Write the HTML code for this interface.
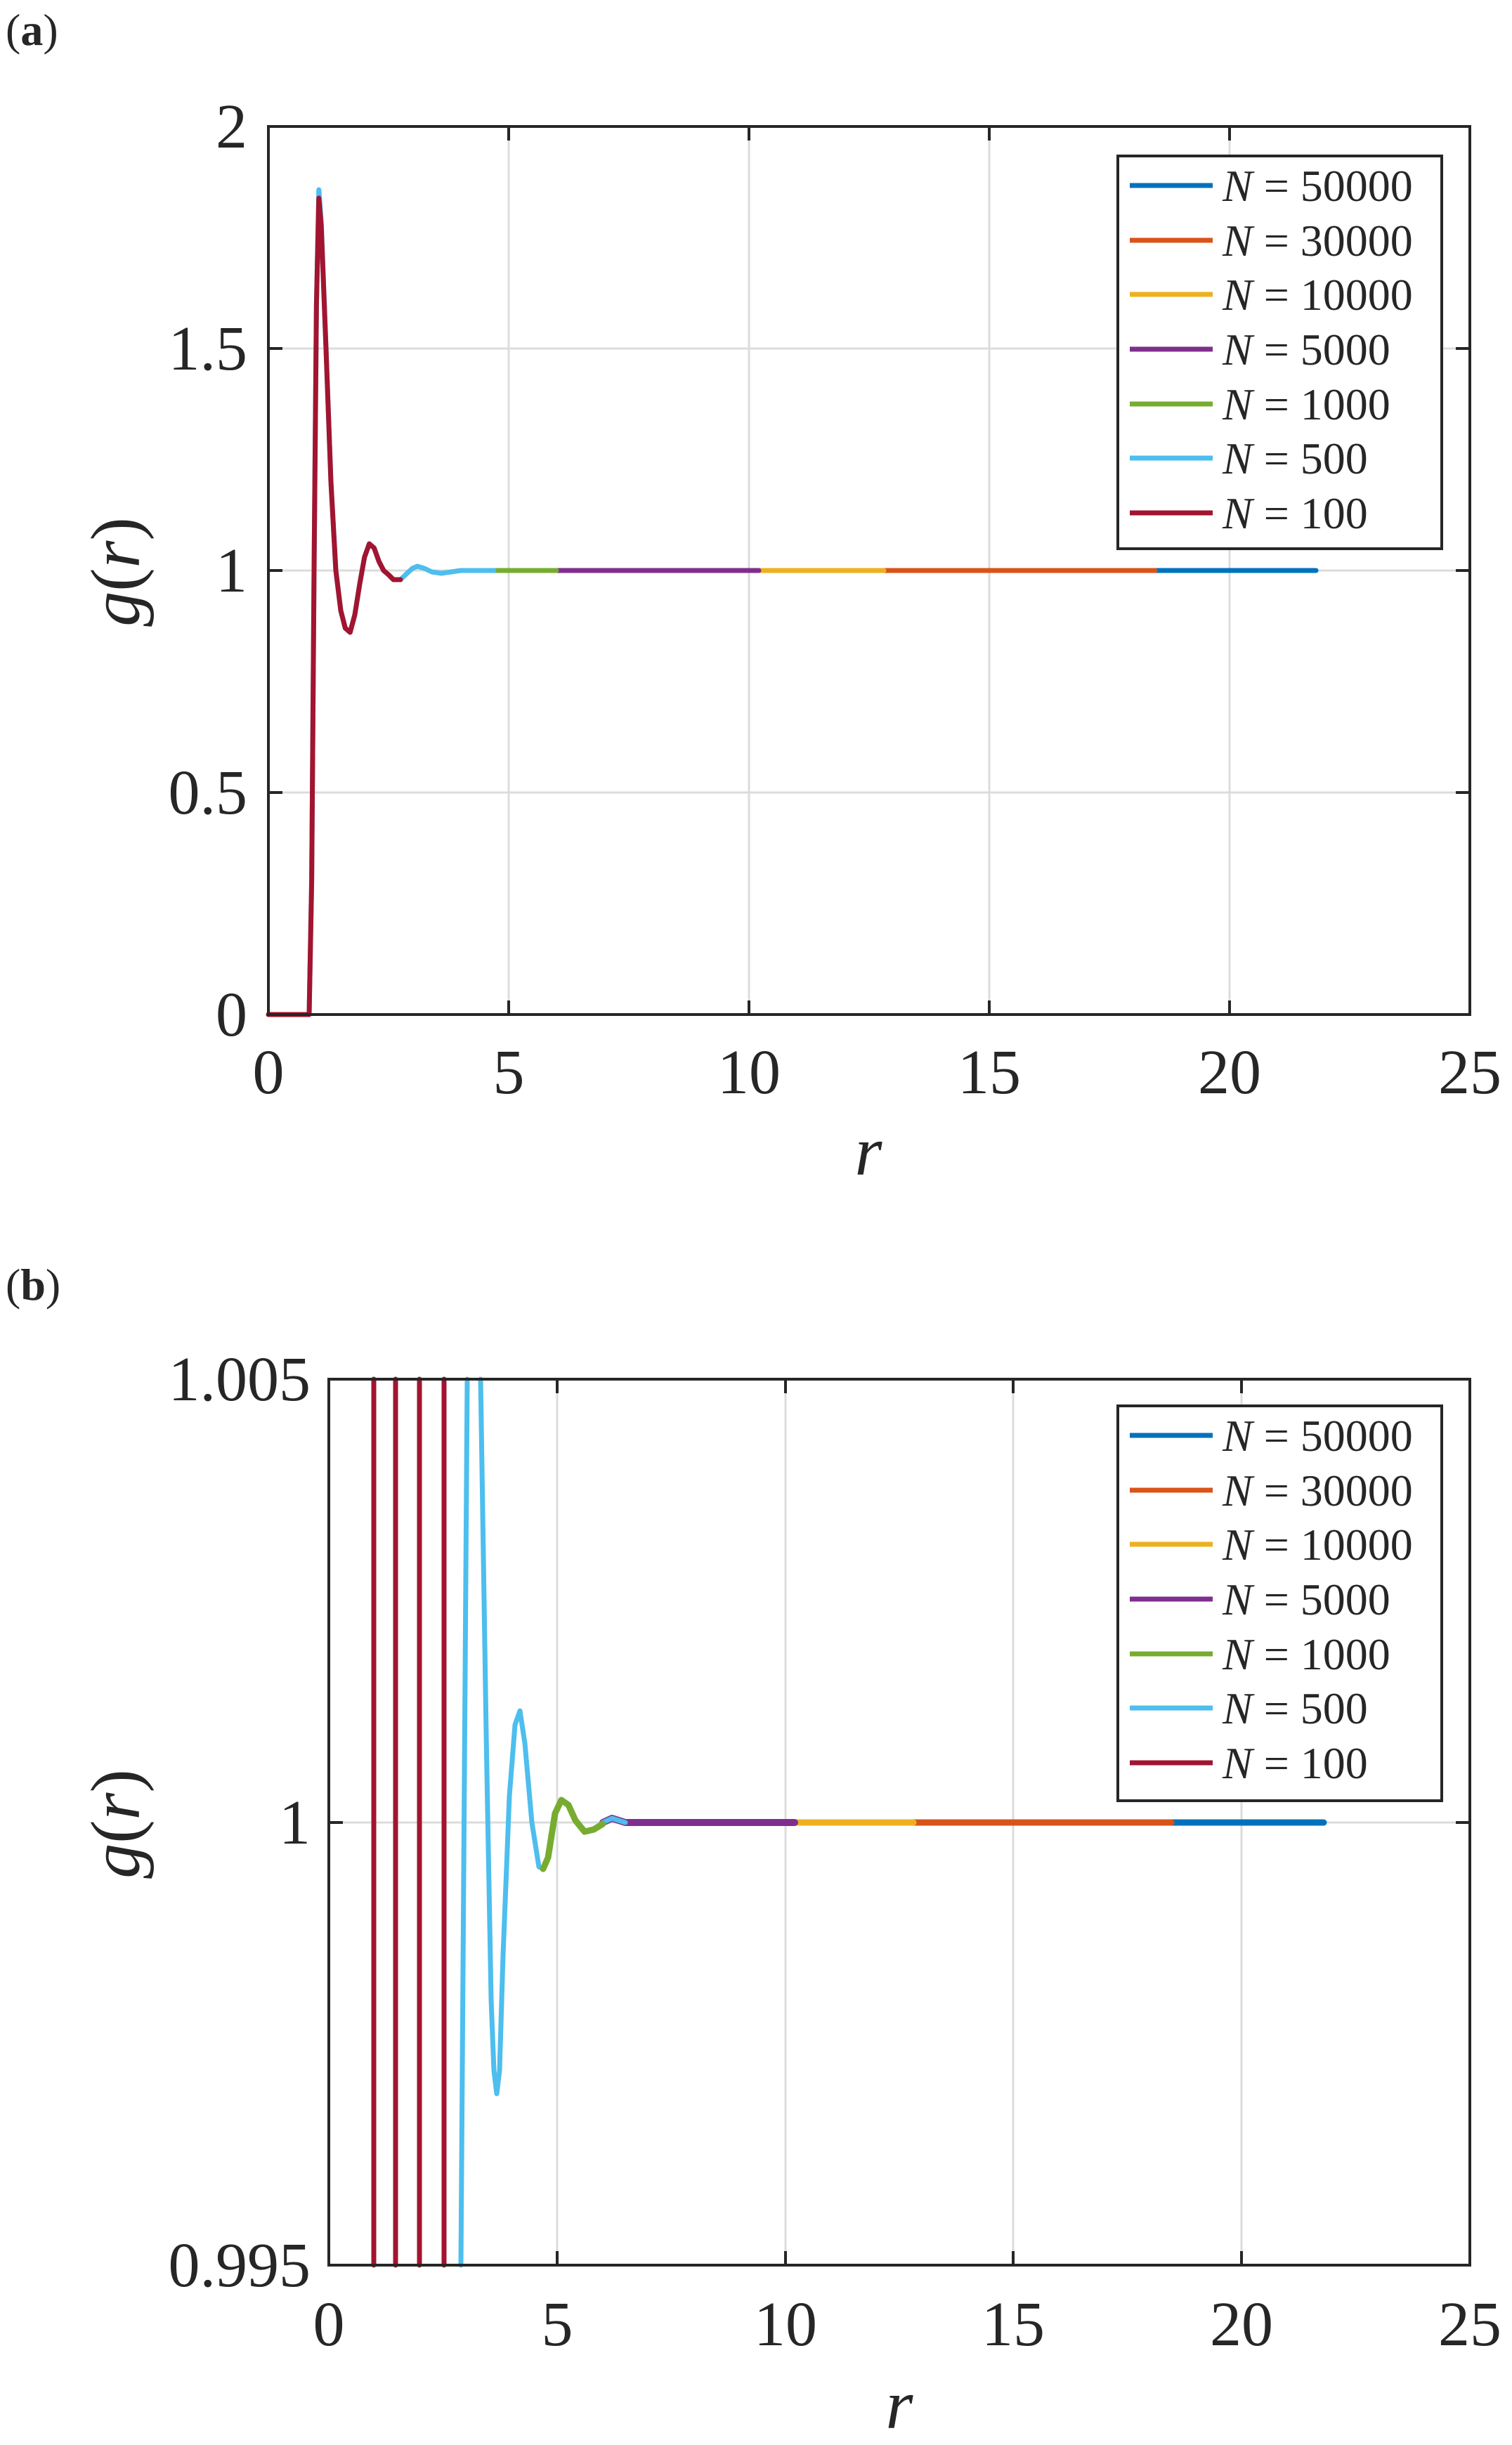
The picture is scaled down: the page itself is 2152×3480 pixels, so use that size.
<!DOCTYPE html>
<html><head><meta charset="utf-8"><style>
html,body{margin:0;padding:0;background:#fff}
svg{display:block}
text{font-family:"Liberation Serif",serif;fill:#262626}
</style></head><body>
<svg width="2152" height="3480" viewBox="0 0 2152 3480" xmlns="http://www.w3.org/2000/svg">
<rect width="2152" height="3480" fill="#fff"/>

<!-- Panel (a) -->
<text x="8" y="64" font-size="64">(<tspan font-weight="bold">a</tspan>)</text>
<g stroke="#dcdcdc" stroke-width="3">
<line x1="724" y1="180" x2="724" y2="1444"/><line x1="1066" y1="180" x2="1066" y2="1444"/>
<line x1="1408" y1="180" x2="1408" y2="1444"/><line x1="1750" y1="180" x2="1750" y2="1444"/>
<line x1="382" y1="496" x2="2092" y2="496"/><line x1="382" y1="812" x2="2092" y2="812"/>
<line x1="382" y1="1128" x2="2092" y2="1128"/>
</g>
<g fill="none" stroke-width="7" stroke-linejoin="round" stroke-linecap="round">
<line x1="1644" y1="812" x2="1873" y2="812" stroke="#0072BD"/>
<line x1="1258" y1="812" x2="1644" y2="812" stroke="#D95319"/>
<line x1="1080" y1="812" x2="1258" y2="812" stroke="#EDB120"/>
<line x1="792" y1="812" x2="1080" y2="812" stroke="#7E2F8E"/>
<line x1="703" y1="812" x2="792" y2="812" stroke="#77AC30"/>
<path stroke="#4DBEEE" d="M382,1444 L440,1444 L443.6,1254 L447,812 L450.4,433 L453.8,270 L457.2,315 L464,496 L471,686 L478,812 L485,869 L491.4,894 L498.3,900 L505,875 L512,831 L518.8,793 L525.6,774 L532.5,780 L539.3,799 L546,812 L553,818 L560,825 L570,825 L580.4,815 L587,809 L594,806 L604,809 L614.6,814 L628,816 L642,814 L656,812 L703,812"/>
<path stroke="#A2142F" d="M382,1444 L440,1444 L443.6,1254 L447,812 L450.4,433 L453.8,282 L457.2,322 L464,496 L471,686 L478,812 L485,869 L491.4,894 L498.3,900 L505,875 L512,831 L518.8,793 L525.6,774 L532.5,780 L539.3,799 L546,812 L553,818 L560,825 L570,825"/>
</g>
<rect x="382" y="180" width="1710" height="1264" fill="none" stroke="#262626" stroke-width="4"/>
<g stroke="#262626" stroke-width="4">
<line x1="724" y1="180" x2="724" y2="200"/><line x1="1066" y1="180" x2="1066" y2="200"/><line x1="1408" y1="180" x2="1408" y2="200"/><line x1="1750" y1="180" x2="1750" y2="200"/>
<line x1="724" y1="1444" x2="724" y2="1424"/><line x1="1066" y1="1444" x2="1066" y2="1424"/><line x1="1408" y1="1444" x2="1408" y2="1424"/><line x1="1750" y1="1444" x2="1750" y2="1424"/>
<line x1="382" y1="496" x2="402" y2="496"/><line x1="382" y1="812" x2="402" y2="812"/><line x1="382" y1="1128" x2="402" y2="1128"/>
<line x1="2092" y1="496" x2="2072" y2="496"/><line x1="2092" y1="812" x2="2072" y2="812"/><line x1="2092" y1="1128" x2="2072" y2="1128"/>
</g>
<g font-size="90" text-anchor="end">
<text x="352" y="210">2</text><text x="352" y="526">1.5</text><text x="352" y="842">1</text>
<text x="352" y="1158">0.5</text><text x="352" y="1474">0</text>
</g>
<g font-size="90" text-anchor="middle">
<text x="382" y="1556">0</text><text x="724" y="1556">5</text><text x="1066" y="1556">10</text>
<text x="1408" y="1556">15</text><text x="1750" y="1556">20</text><text x="2092" y="1556">25</text>
</g>
<text x="1236" y="1672" font-size="100" font-style="italic" text-anchor="middle">r</text>
<text transform="translate(198,814) rotate(-90)" font-size="100" text-anchor="middle"><tspan font-style="italic">g</tspan>(<tspan font-style="italic">r</tspan>)</text>
<rect x="1591" y="222" width="461" height="559" fill="#fff" stroke="#262626" stroke-width="4"/>
<g stroke-width="7">
<line x1="1608" y1="264" x2="1726" y2="264" stroke="#0072BD"/>
<line x1="1608" y1="342" x2="1726" y2="342" stroke="#D95319"/>
<line x1="1608" y1="419" x2="1726" y2="419" stroke="#EDB120"/>
<line x1="1608" y1="497" x2="1726" y2="497" stroke="#7E2F8E"/>
<line x1="1608" y1="575" x2="1726" y2="575" stroke="#77AC30"/>
<line x1="1608" y1="652" x2="1726" y2="652" stroke="#4DBEEE"/>
<line x1="1608" y1="730" x2="1726" y2="730" stroke="#A2142F"/>
</g>
<g font-size="64">
<text x="1740" y="286"><tspan font-style="italic">N</tspan> = 50000</text>
<text x="1740" y="364"><tspan font-style="italic">N</tspan> = 30000</text>
<text x="1740" y="441"><tspan font-style="italic">N</tspan> = 10000</text>
<text x="1740" y="519"><tspan font-style="italic">N</tspan> = 5000</text>
<text x="1740" y="597"><tspan font-style="italic">N</tspan> = 1000</text>
<text x="1740" y="674"><tspan font-style="italic">N</tspan> = 500</text>
<text x="1740" y="752"><tspan font-style="italic">N</tspan> = 100</text>
</g>

<!-- Panel (b) -->
<text x="8" y="1850" font-size="64">(<tspan font-weight="bold">b</tspan>)</text>
<g stroke="#dcdcdc" stroke-width="3">
<line x1="793" y1="1963" x2="793" y2="3224"/><line x1="1118" y1="1963" x2="1118" y2="3224"/>
<line x1="1442" y1="1963" x2="1442" y2="3224"/><line x1="1767" y1="1963" x2="1767" y2="3224"/>
<line x1="468" y1="2594" x2="2092" y2="2594"/>
</g>
<g fill="none" stroke-linejoin="round" stroke-linecap="round">
<path stroke="#0072BD" stroke-width="9" d="M1667,2594 L1884,2594"/>
<path stroke="#D95319" stroke-width="9" d="M1300,2594 L1667,2594"/>
<path stroke="#EDB120" stroke-width="9" d="M1131,2594 L1300,2594"/>
<path stroke="#7E2F8E" stroke-width="10" d="M858,2594 L871,2588 L890,2594 L1131,2594"/>
<path stroke="#4DBEEE" stroke-width="7" d="M656,3224 L665,1963 M684,1963 L692,2468 L699,2846 L703,2947 L707,2980 L711,2947 L716,2783 L725,2556 L733,2455 L740,2435 L747,2481 L757,2594 L767,2657 L773,2660 L780,2644 L790,2581 L799,2562 L809,2569 L819,2591 L832,2607 L845,2604 L858,2594 L871,2588 L890,2594"/>
<path stroke="#77AC30" stroke-width="9" d="M773,2660 L780,2644 L790,2581 L799,2562 L809,2569 L819,2591 L832,2607 L845,2604 L858,2596"/>
<g stroke="#A2142F" stroke-width="7">
<line x1="532" y1="1963" x2="532" y2="3224"/><line x1="563" y1="1963" x2="563" y2="3224"/>
<line x1="597" y1="1963" x2="597" y2="3224"/><line x1="632" y1="1963" x2="632" y2="3224"/>
</g>
</g>
<rect x="468" y="1963" width="1624" height="1261" fill="none" stroke="#262626" stroke-width="4"/>
<g stroke="#262626" stroke-width="4">
<line x1="793" y1="1963" x2="793" y2="1983"/><line x1="1118" y1="1963" x2="1118" y2="1983"/><line x1="1442" y1="1963" x2="1442" y2="1983"/><line x1="1767" y1="1963" x2="1767" y2="1983"/>
<line x1="793" y1="3224" x2="793" y2="3204"/><line x1="1118" y1="3224" x2="1118" y2="3204"/><line x1="1442" y1="3224" x2="1442" y2="3204"/><line x1="1767" y1="3224" x2="1767" y2="3204"/>
<line x1="468" y1="2594" x2="488" y2="2594"/><line x1="2092" y1="2594" x2="2072" y2="2594"/>
</g>
<g font-size="90" text-anchor="end">
<text x="442" y="1993">1.005</text><text x="442" y="2624">1</text><text x="442" y="3254">0.995</text>
</g>
<g font-size="90" text-anchor="middle">
<text x="468" y="3338">0</text><text x="793" y="3338">5</text><text x="1118" y="3338">10</text>
<text x="1442" y="3338">15</text><text x="1767" y="3338">20</text><text x="2092" y="3338">25</text>
</g>
<text x="1280" y="3456" font-size="100" font-style="italic" text-anchor="middle">r</text>
<text transform="translate(198,2596) rotate(-90)" font-size="100" text-anchor="middle"><tspan font-style="italic">g</tspan>(<tspan font-style="italic">r</tspan>)</text>
<rect x="1591" y="2001" width="461" height="562" fill="#fff" stroke="#262626" stroke-width="4"/>
<g stroke-width="7">
<line x1="1608" y1="2043" x2="1726" y2="2043" stroke="#0072BD"/>
<line x1="1608" y1="2121" x2="1726" y2="2121" stroke="#D95319"/>
<line x1="1608" y1="2198" x2="1726" y2="2198" stroke="#EDB120"/>
<line x1="1608" y1="2276" x2="1726" y2="2276" stroke="#7E2F8E"/>
<line x1="1608" y1="2354" x2="1726" y2="2354" stroke="#77AC30"/>
<line x1="1608" y1="2431" x2="1726" y2="2431" stroke="#4DBEEE"/>
<line x1="1608" y1="2509" x2="1726" y2="2509" stroke="#A2142F"/>
</g>
<g font-size="64">
<text x="1740" y="2065"><tspan font-style="italic">N</tspan> = 50000</text>
<text x="1740" y="2143"><tspan font-style="italic">N</tspan> = 30000</text>
<text x="1740" y="2220"><tspan font-style="italic">N</tspan> = 10000</text>
<text x="1740" y="2298"><tspan font-style="italic">N</tspan> = 5000</text>
<text x="1740" y="2376"><tspan font-style="italic">N</tspan> = 1000</text>
<text x="1740" y="2453"><tspan font-style="italic">N</tspan> = 500</text>
<text x="1740" y="2531"><tspan font-style="italic">N</tspan> = 100</text>
</g>
</svg>
</body></html>
